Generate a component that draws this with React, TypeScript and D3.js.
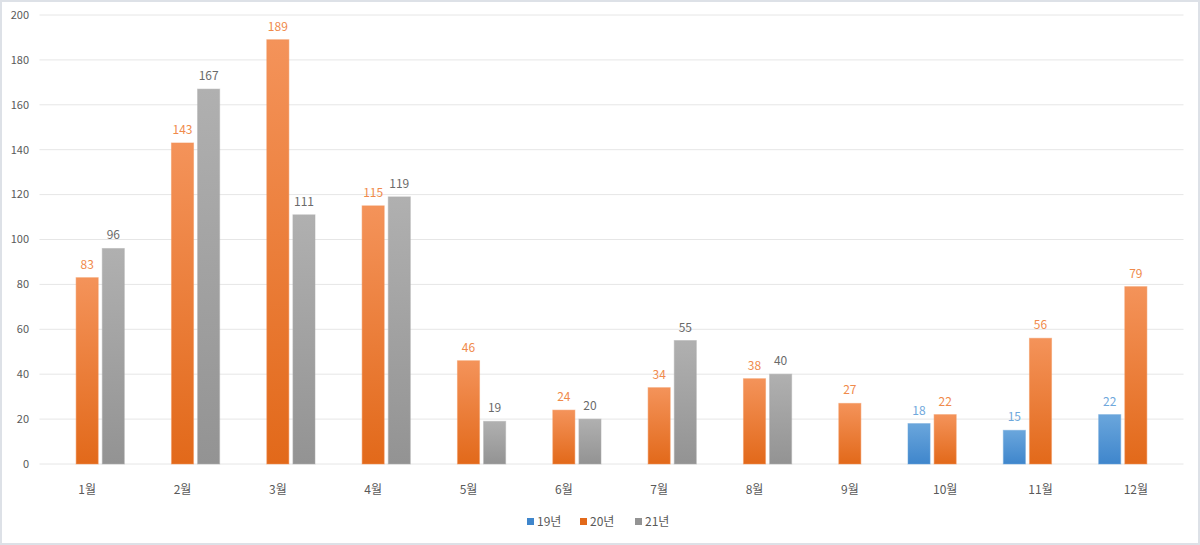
import React from "react";
import * as d3 from "d3";

const months = ["1월", "2월", "3월", "4월", "5월", "6월", "7월", "8월", "9월", "10월", "11월", "12월"];
const seriesNames = ["19년", "20년", "21년"];
const s19: (number | null)[] = [null, null, null, null, null, null, null, null, null, 18, 15, 22];
const s20: (number | null)[] = [83, 143, 189, 115, 46, 24, 34, 38, 27, 22, 56, 79];
const s21: (number | null)[] = [96, 167, 111, 119, 19, 20, 55, 40, null, null, null, null];
const yTicks = [0, 20, 40, 60, 80, 100, 120, 140, 160, 180, 200];

const colors = [
  { top: "#6aa6dc", bottom: "#3f86cc", label: "#6fa8dc" },
  { top: "#f4935a", bottom: "#e2691a", label: "#f08a4b" },
  { top: "#b0b0b0", bottom: "#939393", label: "#6a6a6a" },
];

export default function App() {
  const W = 1200, H = 545;
  const x0 = 39.5, x1 = 1183.5;
  const y = d3.scaleLinear().domain([0, 200]).range([464, 15]);
  const x = d3.scaleBand<string>().domain(months).range([x0, x1]).paddingInner(0.22).paddingOuter(0.11);
  const inner = d3.scaleBand<string>().domain(seriesNames).range([0, x.bandwidth()]).paddingInner(0.154);
  const all = [s19, s20, s21];
  const font = "'Noto Sans CJK KR', 'Noto Sans', sans-serif";

  return (
    <svg width={W} height={H} style={{ position: "absolute", left: 0, top: 0, background: "#fff" }} fontFamily={font}>
      <defs>
        {colors.map((c, i) => (
          <linearGradient key={i} id={`g${i}`} x1="0" y1="0" x2="0" y2="1">
            <stop offset="0%" stopColor={c.top} />
            <stop offset="100%" stopColor={c.bottom} />
          </linearGradient>
        ))}
      </defs>
      <rect x={1} y={1} width={W - 2} height={H - 2} fill="#fff" stroke="#dde1e7" strokeWidth={2} />
      {yTicks.map((t) => (
        <g key={t}>
          <line x1={x0} x2={x1} y1={y(t)} y2={y(t)} stroke="#e6e6e6" strokeWidth={1} />
          <text x={29} y={y(t)} dy="0.35em" textAnchor="end" fontSize={11} fill="#595959">{t}</text>
        </g>
      ))}
      {all.map((s, si) =>
        s.map((v, mi) => {
          if (v == null) return null;
          const bx = (x(months[mi]) as number) + (inner(seriesNames[si]) as number);
          const bw = inner.bandwidth();
          return (
            <g key={`${si}-${mi}`}>
              <rect x={bx} y={y(v)} width={bw} height={y(0) - y(v)} fill={`url(#g${si})`} stroke={colors[si].top} strokeOpacity={0.5} strokeWidth={1} />
              <text x={bx + bw / 2} y={y(v) - 9} textAnchor="middle" fontSize={12} fill={colors[si].label}>{v}</text>
            </g>
          );
        })
      )}
      {months.map((m) => (
        <text key={m} x={(x(m) as number) + x.bandwidth() / 2} y={490} dy="0.35em" textAnchor="middle" fontSize={12} fill="#595959">{m}</text>
      ))}
      {seriesNames.map((n, i) => {
        const lx = [527, 580, 635][i];
        return (
          <g key={n}>
            <rect x={lx} y={518} width={7} height={7} fill={colors[i].bottom} />
            <text x={lx + 10} y={522} dy="0.35em" fontSize={12} fill="#595959">{n}</text>
          </g>
        );
      })}
    </svg>
  );
}
